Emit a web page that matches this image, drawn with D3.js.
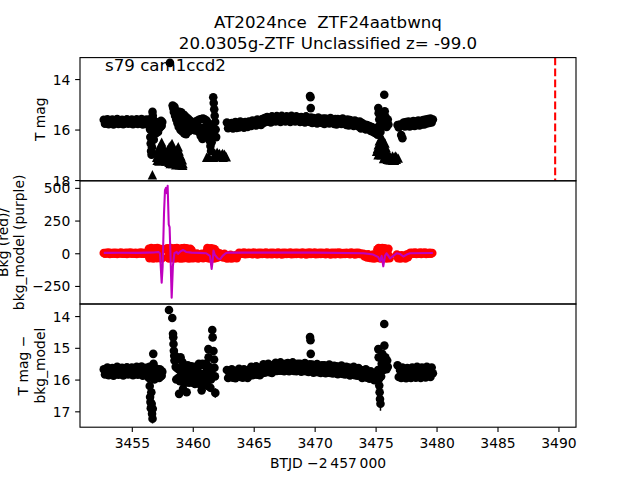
<!DOCTYPE html>
<html><head><meta charset="utf-8">
<script src="https://cdn.jsdelivr.net/npm/d3@7"></script>
<style>body{margin:0;background:#fff} svg text{font-family:"DejaVu Sans",sans-serif;white-space:pre}</style>
</head><body><svg id="c" width="640" height="480"></svg>
<script>
// ---------------- data ----------------
const titleLines = ["AT2024nce  ZTF24aatbwnq", "20.0305g-ZTF Unclassified z= -99.0"];
const sectorLabel = "s79 cam1ccd2";
const xLabel = "BTJD \u22122\u2009457\u2009000";
const topYLabel = ["T mag"];
const midYLabel = ["Bkg (red)/", "bkg_model (purple)"];
const botYLabel = ["T mag \u2212", "bkg_model"];
const xTicks = [3455, 3460, 3465, 3470, 3475, 3480, 3485, 3490];
const topTicks = [14, 16, 18];
const midTicks = [500, 250, 0, -250];
const botTicks = [14, 15, 16, 17];
const xDomain = [3450.75, 3491.44];
const topDomain = [13.15, 18.03];
const midDomain = [-388, 554];
const botDomain = [13.62, 17.5];
const markerTime = 3489.73;

// T mag: dense cadence bands (start, step, values)
const tmagBandStart = [3452.7, 3458.9, 3462.8, 3476.8];
const tmagBandStep = [0.1, 0.05, 0.1, 0.1];
const tmagBandVals = [
 [15.61,15.77,15.69,15.59,15.79,15.66,15.74,15.60,15.80,15.68,
  15.72,15.58,15.78,15.65,15.76,15.61,15.79,15.69,15.73,15.59,
  15.77,15.64,15.75,15.60,15.79,15.67,15.71,15.59,15.78,15.63,
  15.74,15.58,15.80,15.66,15.72,15.60,15.77],
 [15.30,15.65,16.02,15.32,15.70,16.08,15.40,15.75,16.15,15.45,15.80,16.18,
  15.52,15.82,16.10,15.58,15.85,16.05,15.65,15.80,15.88,15.72,15.85,16.00,
  15.76,15.90,16.04,15.68,15.85,16.02,15.64,15.88,16.10,15.60,15.95,16.25,
  15.58,15.98,16.37,15.56,15.92,16.28,15.60,15.90,16.15,15.65,15.95],
 [15.72,15.95,15.80,15.92,15.74,15.96,15.83,15.70,15.94,15.78,
  15.92,15.68,15.86,15.74,15.93,15.70,15.84,15.90,15.68,15.82,
  15.86,15.64,15.80,15.70,15.84,15.60,15.76,15.66,15.82,15.58,
  15.74,15.54,15.70,15.50,15.68,15.58,15.72,15.48,15.66,15.56,
  15.68,15.47,15.62,15.52,15.70,15.46,15.60,15.54,15.68,15.48,
  15.64,15.50,15.70,15.46,15.60,15.55,15.68,15.48,15.62,15.52,
  15.70,15.50,15.64,15.56,15.72,15.48,15.66,15.54,15.70,15.52,
  15.74,15.54,15.68,15.58,15.76,15.52,15.70,15.60,15.74,15.56,
  15.78,15.56,15.70,15.60,15.76,15.54,15.72,15.62,15.78,15.58,
  15.80,15.58,15.74,15.62,15.78,15.56,15.72,15.64,15.82,15.60,
  15.84,15.62,15.78,15.66,15.86,15.64,15.80,15.70,15.88,15.68,
  15.96,15.74,15.92,15.80,16.00,15.82,15.98,15.86,16.06,15.90,
  16.10,15.96,16.14],
 [15.82,15.92,15.80,16.22,16.34,15.72,15.88,15.70,15.86,15.68,
  15.88,15.70,15.84,15.66,15.86,15.68,15.82,15.64,15.84,15.66,
  15.80,15.62,15.80,15.60,15.76,15.58,15.74,15.56,15.72,15.60]
];
// T mag: individual points [time, mag, err]
const tmagPts = [
 [3456.35,15.70,.05],[3456.40,15.85,.05],[3456.45,15.60,.05],[3456.50,16.00,.08],[3456.52,16.30,.10],
 [3456.55,16.55,.12],[3456.58,16.85,.15],[3456.62,17.00,.15],[3456.66,16.70,.12],[3456.70,15.30,.05],
 [3456.72,15.45,.05],[3456.75,15.60,.05],[3456.78,16.10,.10],[3456.80,16.40,.10],[3456.85,15.80,.06],
 [3456.90,15.95,.06],[3456.95,16.15,.08],[3457.00,15.70,.05],[3457.05,16.00,.06],[3457.10,15.80,.05],
 [3457.15,16.10,.06],[3457.20,15.75,.05],[3457.25,15.95,.05],[3457.30,15.70,.05],[3457.35,15.90,.05],
 [3457.40,15.65,.05],[3457.45,15.85,.05],[3457.50,15.70,.05],
 [3458.13,13.36,.04],[3458.35,15.05,.04],[3458.40,15.15,.04],[3458.45,15.30,.04],[3458.50,15.10,.04],
 [3458.55,15.45,.05],[3458.60,15.25,.05],[3458.65,15.60,.05],[3458.70,15.40,.05],[3458.75,15.75,.05],
 [3458.80,15.50,.05],[3458.85,15.90,.05],
 [3461.25,15.75,.05],[3461.30,16.00,.06],[3461.35,16.25,.08],[3461.40,16.45,.10],[3461.45,16.65,.10],
 [3461.50,16.85,.12],[3461.55,16.50,.10],[3461.60,16.20,.08],[3461.64,15.90,.06],[3461.68,14.72,.04],
 [3461.72,14.95,.04],[3461.76,15.20,.05],[3461.80,15.45,.05],[3461.84,15.70,.06],[3461.88,16.00,.08],
 [3461.92,16.30,.10],
 [3469.62,14.67,.04],[3469.66,14.72,.04],[3469.68,15.15,.04],
 [3475.10,16.00,.06],[3475.15,16.20,.08],[3475.20,15.90,.06],[3475.22,15.15,.05],[3475.25,15.35,.05],
 [3475.30,15.60,.05],[3475.35,15.85,.06],[3475.40,16.10,.08],[3475.50,15.90,.06],[3475.60,15.70,.06],
 [3475.71,14.62,.04],[3475.75,15.28,.05],[3475.80,15.48,.05],[3475.85,15.68,.05],[3475.90,15.90,.06],
 [3476.00,15.60,.05],[3476.05,15.80,.05]
];
// T mag upper limits [time, mag]
const tmagLimits = [
 [3457.45,16.50],[3458.30,16.55],[3458.81,16.68],[3457.17,17.00],[3457.31,16.80],[3457.58,16.75],
 [3457.72,16.95],[3457.86,17.10],[3458.00,16.90],[3458.13,16.75],[3458.40,16.85],[3458.54,17.05],
 [3458.68,17.20],[3458.95,17.30],[3459.09,17.35],[3459.20,17.35],[3457.31,17.15],[3457.60,17.20],
 [3457.90,17.25],[3458.20,17.20],[3458.50,17.30],[3458.80,17.35],[3457.04,17.10],[3456.69,17.79],
 [3457.10,16.85],[3457.25,16.70],[3457.38,16.62],[3457.52,16.62],[3457.65,16.85],[3457.80,16.98],
 [3457.95,16.80],[3458.08,16.68],[3458.22,16.62],[3458.35,16.68],[3458.48,16.90],[3458.62,16.85],
 [3458.75,16.75],[3458.88,16.85],[3459.02,17.05],[3459.15,17.20],[3457.08,17.22],[3457.22,17.25],
 [3457.40,16.95],[3457.50,17.05],[3457.66,17.22],[3457.78,17.25],[3457.95,17.10],[3458.05,17.30],
 [3458.25,16.95],[3458.35,17.35],[3458.45,17.15],[3458.60,17.40],[3458.72,17.05],[3458.90,17.40],
 [3459.05,17.40],[3459.18,17.42],[3458.15,17.35],[3457.45,17.20],[3457.55,16.90],[3458.00,17.05],
 [3461.14,17.10],[3461.82,16.95],[3461.95,17.05],[3462.10,16.98],[3462.25,17.08],[3462.37,17.00],
 [3462.50,17.10],[3462.65,17.05],[3461.30,17.05],[3461.70,17.10],[3462.00,16.90],[3462.20,16.95],
 [3462.45,16.95],[3462.60,16.98],[3462.75,17.08],
 [3475.50,16.29],[3475.22,16.60],[3475.77,16.53],[3475.08,16.86],[3475.50,16.80],[3475.91,16.86],
 [3475.36,16.93],[3476.05,17.00],[3475.77,17.06],[3476.18,17.06],[3476.45,17.13],[3476.73,17.10],
 [3476.30,17.16],[3476.60,17.16],[3476.86,17.13],[3475.30,16.45],[3475.42,16.55],[3475.62,16.45],
 [3475.70,16.70],[3475.15,16.75],[3475.28,16.80],[3475.45,17.00],[3475.60,16.95],[3475.85,16.70],
 [3475.98,16.95],[3475.20,17.00],[3475.65,17.15],[3475.95,17.18],[3476.10,17.20],[3476.25,17.20],
 [3476.40,17.22],[3476.55,17.22],[3476.70,17.18],[3476.38,17.05],[3476.52,17.08],[3476.65,17.05]
];

// Background (red): dense cadence segments
const bkgSegStart = [3452.7, 3456.4, 3457.9, 3459.95, 3461.1, 3462.0, 3462.7, 3463.8, 3474.0, 3475.15, 3476.75, 3477.85];
const bkgSegStep = [0.1, 0.05, 0.05, 0.1, 0.05, 0.1, 0.1, 0.1, 0.1, 0.05, 0.1, 0.1];
const bkgSegVals = [
 [2,-4,3,-2,5,-5,1,-3,4,-4,3,-5,2,-2,5,-4,1,-3,4,-5,3,-2,5,-4,2,-3,4,-5,1,-2,5,-4,3,-3,2,-5,4],
 [35,-38,20,-30,40,-25,30,-40,15,-35,38,-20,28,-38,40,-30,22,-36,35,-28,18,-40,30],
 [38,-30,15,-40,35,-20,40,-35,25,-38,30,-15,38,-40,20,-30,40,-25,35,-38,
  15,-35,30,-40,38,-20,25,-38,40,-30,20,-35,38,-25,30,-40,15,-30,35,-38,25],
 [-5,-38,-10,-35,-2,-40,-15,-30,-5,-38,-12,-30],
 [10,-35,40,-20,35,-40,25,-30,38,-38,20,-25,35,-40,30,-20,15,-35],
 [-5,-30,0,-25,-8,-32,-4],
 [-15,-40,-20,-38,-12,-40,-25,-35,-15,-38,-10],
 [3,-6,2,-4,5,-8,1,-5,4,-3,2,-7,5,-4,1,-9,3,-5,4,-6,2,-4,6,-8,1,-5,3,-7,4,-3,
  2,-7,5,-3,1,-9,3,-6,4,-6,2,-4,5,-8,2,-5,3,-6,4,-2,1,-7,5,-4,1,-9,3,-5,5,-6,
  2,-4,5,-8,1,-6,3,-6,4,-3,2,-8,5,-4,1,-9,3,-5,4,-7,3,-4,5,-8,1,-5,2,-6,4,-3,
  2,-7,5,-4,1,-10,3,-5,4,-6,-2,-8],
 [-5,-25,-10,-32,-8,-35,-15,-38,-10,-40,-20,-35],
 [30,-35,40,-20,38,-40,25,-30,40,-38,20,-35,38,-25,30,-40,15,-30,35,-20,-38],
 [-10,-38,-20,-40,-15,-35,-25,-40,-10,-30,-5],
 [3,-5,4,-3,5,-6,2,-4,6,-5,3,-2,5,-6,1,-4,4,-3,2]
];
// Background model (purple)
const modelT = [3452.7,3454.0,3455.5,3456.3,3456.8,3457.17,3457.31,3457.45,3457.53,3457.64,3457.72,3457.8,
 3457.87,3457.94,3458.03,3458.1,3458.17,3458.27,3458.37,3458.49,3458.68,3458.8,3459.0,3459.2,3459.45,
 3459.9,3460.5,3461.1,3461.41,3461.55,3461.63,3461.7,3461.8,3462.05,3462.25,3462.45,3462.7,3462.9,
 3463.5,3466.0,3470.0,3474.0,3474.8,3475.22,3475.36,3475.5,3475.63,3475.77,3475.9,3476.05,3476.18,
 3476.45,3476.73,3477.0,3477.27,3477.55,3477.82,3479.7];
const modelV = [3,4,3,5,6,10,0,-225,-100,300,480,500,460,515,220,200,0,-340,-100,0,10,-5,15,25,10,
 5,3,0,-20,-120,-60,20,-10,-40,-45,-20,0,5,5,5,5,0,-10,-30,-60,-20,-100,-20,0,-20,-40,-20,0,-5,-25,-10,0,2];

// T mag - bkg_model: dense cadence bands
const dmagBandStart = [3452.7, 3458.55, 3462.8, 3476.8];
const dmagBandStep = [0.1, 0.05, 0.1, 0.1];
const dmagBandVals = [
 [15.68,15.84,15.74,15.62,15.86,15.70,15.80,15.64,15.88,15.72,
  15.78,15.60,15.85,15.69,15.82,15.63,15.87,15.73,15.77,15.61,
  15.84,15.67,15.80,15.62,15.86,15.71,15.75,15.60,15.85,15.66,
  15.79,15.59,15.88,15.70,15.76,15.63,15.82],
 [15.25,15.60,16.00,15.30,15.65,15.95,15.35,15.70,16.05,15.30,15.75,16.00,15.45,15.80,16.10,
  15.55,15.85,16.10,15.60,15.90,16.05,15.55,15.80,16.10,15.60,15.85,16.00,15.58,15.90,16.10,
  15.62,15.80,15.98,15.60,15.85,16.00,15.65,15.80,15.95,
  15.50,15.80,16.15,15.55,15.90,16.20,15.50,15.85,16.10,15.55,15.80,16.15,
  15.50,15.75,16.00],
 [15.70,15.95,15.78,15.92,15.68,15.94,15.80,15.96,15.72,15.88,
  15.66,15.92,15.76,15.94,15.68,15.90,15.74,15.95,15.70,15.86,
  15.60,15.86,15.68,15.84,15.58,15.85,15.70,15.86,15.62,15.80,
  15.52,15.78,15.60,15.76,15.50,15.77,15.62,15.79,15.54,15.72,
  15.47,15.73,15.56,15.72,15.46,15.72,15.58,15.74,15.50,15.66,
  15.48,15.74,15.55,15.70,15.46,15.73,15.58,15.74,15.50,15.67,
  15.50,15.75,15.58,15.73,15.48,15.74,15.60,15.76,15.52,15.68,
  15.53,15.78,15.60,15.76,15.51,15.77,15.63,15.79,15.55,15.71,
  15.55,15.80,15.62,15.78,15.53,15.79,15.65,15.81,15.57,15.73,
  15.58,15.83,15.66,15.80,15.56,15.82,15.68,15.84,15.60,15.76,
  15.62,15.87,15.70,15.84,15.60,15.86,15.72,15.88,15.64,15.80,
  15.70,15.95,15.78,15.92,15.68,15.94,15.80,15.97,15.74,15.90,
  15.80,16.02,15.88],
 [15.55,15.92,15.70,15.95,15.62,15.90,15.72,15.96,15.64,15.88,
  15.74,15.95,15.62,15.90,15.70,15.94,15.60,15.88,15.72,15.95,
  15.62,15.90,15.68,15.93,15.60,15.86,15.70,15.92,15.62,15.80]
];
const dmagPts = [
 [3456.35,15.75,.05],[3456.40,15.95,.05],[3456.45,15.60,.05],[3456.47,16.20,.08],[3456.50,16.55,.10],
 [3456.53,16.71,.10],[3456.56,16.90,.12],[3456.60,16.40,.10],[3456.63,16.76,.10],[3456.66,17.08,.15],
 [3456.70,17.23,.15],[3456.72,16.92,.12],[3456.76,15.19,.05],[3456.78,15.50,.05],[3456.80,15.75,.05],
 [3456.85,16.00,.06],[3456.90,15.70,.05],[3456.95,15.90,.05],[3457.00,15.65,.05],[3457.05,15.95,.05],
 [3457.10,15.75,.05],[3457.15,15.90,.05],[3457.20,15.70,.05],[3457.25,15.95,.05],[3457.30,15.68,.05],
 [3457.35,15.90,.05],[3457.40,15.72,.05],[3457.45,15.88,.05],[3457.50,15.75,.05],
 [3458.05,13.81,.04],[3458.32,14.06,.04],[3458.38,14.56,.04],[3458.40,14.67,.04],[3458.42,14.88,.04],
 [3458.45,15.09,.04],[3458.48,15.25,.05],[3458.50,15.40,.05],
 [3458.88,16.45,.12],[3459.50,16.40,.08],[3460.73,16.34,.10],[3459.20,16.30,.08],[3460.18,16.14,.06],
 [3461.10,15.50,.05],[3461.15,15.75,.05],[3461.20,16.00,.06],[3461.25,16.20,.08],[3461.28,15.04,.05],
 [3461.30,15.30,.05],[3461.35,15.60,.05],[3461.40,15.90,.06],[3461.45,16.26,.10],[3461.50,16.00,.06],
 [3461.55,15.70,.05],[3461.60,14.44,.04],[3461.63,14.67,.04],[3461.70,15.10,.05],[3461.75,15.37,.05],
 [3461.78,15.63,.05],[3461.82,15.90,.06],[3461.85,16.42,.15],
 [3469.62,14.66,.04],[3469.66,14.76,.04],[3469.68,15.19,.04],
 [3475.10,15.85,.05],[3475.15,15.95,.05],[3475.20,15.70,.05],[3475.22,15.04,.05],[3475.25,15.30,.05],
 [3475.28,15.98,.06],[3475.30,16.19,.08],[3475.33,16.40,.10],[3475.36,16.61,.12],[3475.40,16.76,.22],
 [3475.45,15.90,.06],[3475.50,15.50,.05],[3475.55,15.19,.05],[3475.60,15.40,.05],[3475.65,15.70,.05],
 [3475.71,14.25,.04],[3475.72,14.93,.04],[3475.80,15.30,.05],[3475.85,15.56,.05],[3475.90,15.67,.05],
 [3475.95,15.40,.05],[3476.00,15.60,.05]
];

// ---------------- drawing ----------------
const svg = d3.select("#c");
const L = 80, R = 576;
const P = [[57.6, 180.8], [180.8, 304], [304, 427.2]];
const FS = 13.89, R_DOT = 4.3;

const x = d3.scaleLinear().domain(xDomain).range([L, R]);
const yTop = d3.scaleLinear().domain(topDomain).range([P[0][0], P[0][1]]);
const yMid = d3.scaleLinear().domain(midDomain).range([P[1][1], P[1][0]]);
const yBot = d3.scaleLinear().domain(botDomain).range([P[2][0], P[2][1]]);

function expand(starts, steps, vals) {
  const out = [];
  starts.forEach((s, k) => vals[k].forEach((v, i) => out.push([s + i * steps[k], v, 0])));
  return out;
}

const defs = svg.append("defs");
P.forEach((p, i) => {
  defs.append("clipPath").attr("id", "clip" + i).append("rect")
    .attr("x", L).attr("y", p[0]).attr("width", R - L).attr("height", p[1] - p[0]);
});

function panel(i) { return svg.append("g").attr("clip-path", `url(#clip${i})`); }

function drawDots(g, data, y, color) {
  g.append("g").selectAll("line").data(data.filter(d => d[2] > 0)).join("line")
    .attr("x1", d => x(d[0])).attr("x2", d => x(d[0]))
    .attr("y1", d => y(d[1] - d[2])).attr("y2", d => y(d[1] + d[2]))
    .attr("stroke", color).attr("stroke-width", 1.5);
  g.append("g").selectAll("circle").data(data).join("circle")
    .attr("cx", d => x(d[0])).attr("cy", d => y(d[1])).attr("r", R_DOT).attr("fill", color);
}

// top panel
const g0 = panel(0);
g0.append("g").selectAll("path").data(tmagLimits).join("path")
  .attr("transform", d => `translate(${x(d[0])},${yTop(d[1])})`)
  .attr("d", "M0,-4.7L4.7,4.7L-4.7,4.7Z").attr("fill", "#000");
drawDots(g0, expand(tmagBandStart, tmagBandStep, tmagBandVals).concat(tmagPts), yTop, "#000");
g0.append("line").attr("x1", x(markerTime)).attr("x2", x(markerTime))
  .attr("y1", P[0][0]).attr("y2", P[0][1])
  .attr("stroke", "#ff0000").attr("stroke-width", 2.08).attr("stroke-dasharray", "7.7,3.3");

// middle panel
const g1 = panel(1);
g1.append("g").selectAll("circle").data(expand(bkgSegStart, bkgSegStep, bkgSegVals)).join("circle")
  .attr("cx", d => x(d[0])).attr("cy", d => yMid(d[1])).attr("r", R_DOT).attr("fill", "#ff0000");
g1.append("path").datum(modelT.map((t, i) => [t, modelV[i]]))
  .attr("d", d3.line().x(d => x(d[0])).y(d => yMid(d[1])))
  .attr("fill", "none").attr("stroke", "#bf00bf").attr("stroke-width", 2.08).attr("stroke-linejoin", "round");

// bottom panel
const g2 = panel(2);
drawDots(g2, expand(dmagBandStart, dmagBandStep, dmagBandVals).concat(dmagPts), yBot, "#000");

// frames
P.forEach(p => svg.append("rect").attr("x", L).attr("y", p[0]).attr("width", R - L).attr("height", p[1] - p[0])
  .attr("fill", "none").attr("stroke", "#000").attr("stroke-width", 1.11));

// axes
function styleAxis(sel, dy) {
  sel.select(".domain").remove();
  sel.selectAll(".tick line").attr("stroke", "#000").attr("stroke-width", 1.11);
  sel.selectAll(".tick text").attr("font-size", FS).attr("font-family", "DejaVu Sans").attr("fill", "#000").attr("dy", dy);
}
const ax0 = svg.append("g").attr("transform", `translate(${L},0)`)
  .call(d3.axisLeft(yTop).tickValues(topTicks).tickFormat(d3.format("d")).tickSize(4.86).tickPadding(4.86));
styleAxis(ax0, "0.36em");
const ax1 = svg.append("g").attr("transform", `translate(${L},0)`)
  .call(d3.axisLeft(yMid).tickValues(midTicks).tickFormat(d3.format("d")).tickSize(4.86).tickPadding(4.86));
styleAxis(ax1, "0.36em");
const ax2 = svg.append("g").attr("transform", `translate(${L},0)`)
  .call(d3.axisLeft(yBot).tickValues(botTicks).tickFormat(d3.format("d")).tickSize(4.86).tickPadding(4.86));
styleAxis(ax2, "0.36em");
const axX = svg.append("g").attr("transform", `translate(0,${P[2][1]})`)
  .call(d3.axisBottom(x).tickValues(xTicks).tickFormat(d3.format("d")).tickSize(4.86).tickPadding(4.86));
styleAxis(axX, "0.8em");

// texts
svg.selectAll(".title").data(titleLines).join("text").attr("class", "title")
  .attr("x", (L + R) / 2).attr("y", (d, i) => 28.3 + i * 20.7)
  .attr("text-anchor", "middle").attr("font-size", 16.67).attr("xml:space", "preserve").text(d => d);
svg.append("text").attr("x", 105).attr("y", 70.5).attr("font-size", 16.67).text(sectorLabel);
svg.append("text").attr("x", (L + R) / 2).attr("y", 468).attr("text-anchor", "middle")
  .attr("font-size", FS).text(xLabel);

function yLabel(lines, xs, cy) {
  lines.forEach((t, i) => {
    svg.append("text").attr("transform", `translate(${xs[i]},${cy}) rotate(-90)`)
      .attr("text-anchor", "middle").attr("dy", "0.36em").attr("font-size", FS).text(t);
  });
}
yLabel(topYLabel, [40], (P[0][0] + P[0][1]) / 2);
yLabel(midYLabel, [2.5, 19], (P[1][0] + P[1][1]) / 2);
yLabel(botYLabel, [22.5, 39.5], (P[2][0] + P[2][1]) / 2);
</script></body></html>
